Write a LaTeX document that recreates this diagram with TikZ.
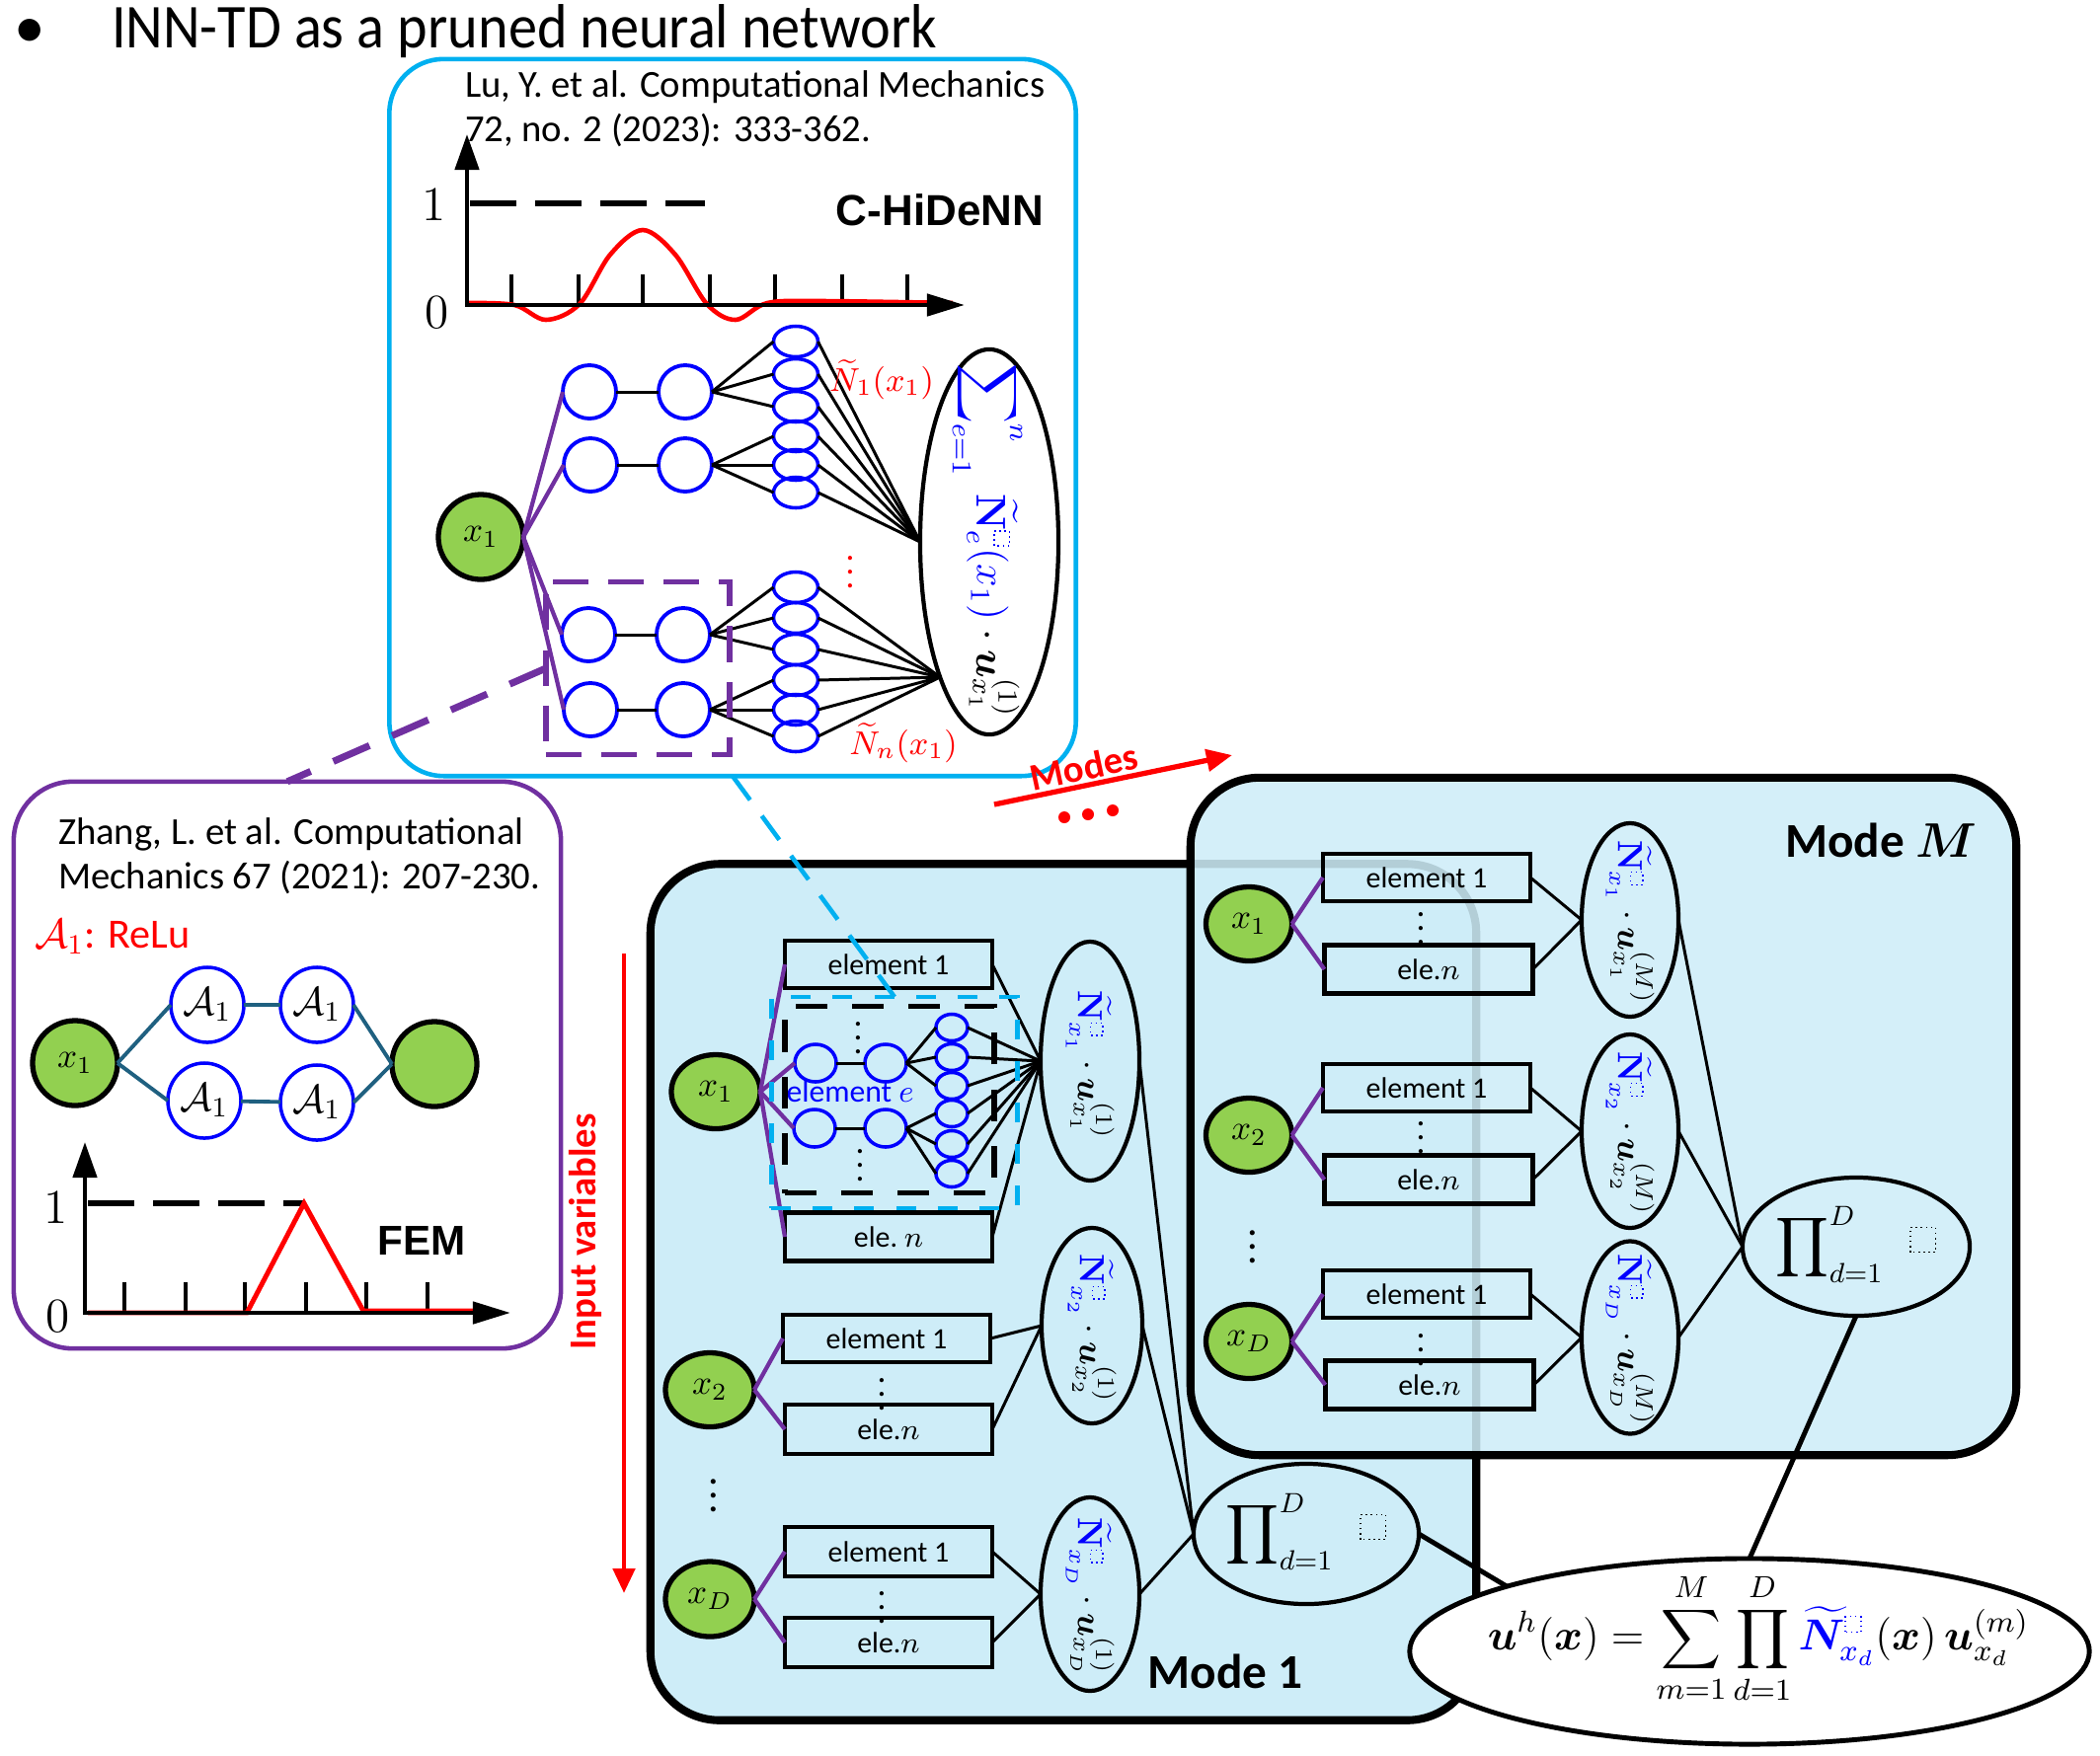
\RequirePackage{fix-cm}
\documentclass[tikz,border=0pt]{standalone}
\usepackage{amsmath,bm}
\usepackage[no-math]{fontspec}
\setmainfont{Carlito}
\newfontfamily\arialf{Liberation Sans}
\usepackage{graphicx}
\usetikzlibrary{shapes.geometric,arrows.meta}
\definecolor{cyanc}{RGB}{0,176,240}
\definecolor{purp}{RGB}{112,48,160}
\definecolor{greenc}{RGB}{146,208,80}
\definecolor{bluec}{RGB}{0,0,255}
\definecolor{tealc}{RGB}{31,96,128}
\definecolor{lbg}{RGB}{206,237,248}
\newcommand{\fsz}[1]{\fontsize{#1}{#1}\selectfont}
\newcommand{\phbox}[1][0.36em]{\tikz[baseline=0pt]\draw[densely dotted,line width=0.45pt] (0,0) rectangle (#1,#1);}
\newcommand{\Nt}{\widetilde{\mathbf{N}}}
\begin{document}
\begin{tikzpicture}[x=0.01cm,y=-0.01cm,
  every node/.style={inner sep=0pt, outer sep=0pt},
  gnode/.style={ellipse, draw=black, fill=greenc, line width=1.5pt, font=\fsz{10}},
  bcirc/.style={ellipse, draw=bluec, line width=1.1pt},
  sell/.style={ellipse, draw=bluec, line width=1pt},
  ebox/.style={rectangle, draw=black, line width=1.2pt, minimum width=2.10cm, minimum height=0.48cm, font=\fsz{8.5}},
  bell/.style={ellipse, draw=black, line width=1.2pt},
  conn/.style={line width=0.85pt, draw=black},
  pconn/.style={line width=1.2pt, draw=purp},
  tconn/.style={line width=1.1pt, draw=tealc},
  axisln/.style={line width=1.3pt, draw=black},
  axarr/.style={axisln, {Triangle[length=0.36cm,width=0.24cm]}-{Triangle[length=0.38cm,width=0.22cm]}},
  dline/.style={line width=1.6pt, dash pattern=on 0.47cm off 0.19cm},
  modebox/.style={rectangle, draw=black, line width=2.3pt, fill=lbg, rounded corners=0.7cm},
  reftext/.style={anchor=west, font=\fsz{11}},
  etext/.style={rotate=-90, font=\fsz{10}},
  ptext/.style={font=\fsz{12}},
  vdt/.style={font=\fsz{10}}
]
\useasboundingbox (0,0) rectangle (2127,1778);

% ---------- title ----------
\node[anchor=base, font=\fsz{18}] (bullet) at (30,48) {\textbullet};
\node[anchor=base west, font=\fsz{18}] (title) at (113,48) {\scalebox{0.92}[1]{INN-TD as a pruned neural network}};

% ---------- C-HiDeNN panel ----------
\node[draw=cyanc, line width=1.3pt, rounded corners=0.55cm, minimum width=6.95cm, minimum height=7.26cm] (chid) at (742,423) {};
\node[reftext] (ref1a) at (471,88) {Lu, Y. et al. Computational Mechanics};
\node[reftext] (ref1b) at (471,132) {72, no. 2 (2023): 333-362.};
\node[font=\arialf\bfseries\fsz{12.5}] (chidlab) at (952,213) {C-HiDeNN};
\node[font=\fsz{14}] (one1) at (440,208) {$1$};
\node[font=\fsz{14}] (zero1) at (443,317) {$0$};
\draw[dline] (476,206) -- (714,206);
\foreach \xx in {518,586,651,719,785,853,919} \draw[axisln] (\xx,309) -- (\xx,278);
\draw[red, line width=1.3pt] plot[smooth, tension=0.55] coordinates {(474,307) (521,309) (553,324) (587,308) (618,258) (651,233) (684,258) (716,308) (745,324) (777,307) (830,305) (965,307)};
\draw[axarr] (473,136) -- (473,309) -- (977,309);

\node[gnode, minimum width=0.86cm, minimum height=0.86cm] (cx) at (487,544) {$x_1$};
\node[bcirc, minimum width=0.54cm, minimum height=0.54cm] (c11) at (597,397) {};
\node[bcirc, minimum width=0.54cm, minimum height=0.54cm] (c12) at (694,397) {};
\node[bcirc, minimum width=0.54cm, minimum height=0.54cm] (c21) at (598,471) {};
\node[bcirc, minimum width=0.54cm, minimum height=0.54cm] (c22) at (694,471) {};
\node[bcirc, minimum width=0.54cm, minimum height=0.54cm] (c31) at (596,643) {};
\node[bcirc, minimum width=0.54cm, minimum height=0.54cm] (c32) at (692,643) {};
\node[bcirc, minimum width=0.54cm, minimum height=0.54cm] (c41) at (598,719) {};
\node[bcirc, minimum width=0.54cm, minimum height=0.54cm] (c42) at (692,719) {};
\foreach \i/\yy in {1/346,2/379,3/412,4/442,5/471,6/499}
  \node[sell, minimum width=0.45cm, minimum height=0.31cm] (sA\i) at (806,\yy) {};
\foreach \i/\yy in {1/595,2/626,3/658,4/689,5/719,6/746}
  \node[sell, minimum width=0.45cm, minimum height=0.31cm] (sB\i) at (806,\yy) {};
\node[bell, minimum width=1.40cm, minimum height=3.90cm] (cbig) at (1002,549) {};
\node[rotate=-90, font=\fsz{12}] (cbigt) at (1000,548) {$\textcolor{bluec}{\displaystyle\sum\nolimits_{e=1}^{n}\ \Nt_e^{\phbox}(x_1)}\cdot\bm{u}_{x_1}^{(1)}$};

\foreach \n in {c11,c21,c31,c41} \draw[pconn] (cx.east) -- (\n.west);
\draw[conn] (c11) -- (c12); \draw[conn] (c21) -- (c22);
\draw[conn] (c31) -- (c32); \draw[conn] (c41) -- (c42);
\foreach \i in {1,2,3} {\draw[conn] (c12.east) -- (sA\i.west); \draw[conn] (c32.east) -- (sB\i.west);}
\foreach \i in {4,5,6} {\draw[conn] (c22.east) -- (sA\i.west); \draw[conn] (c42.east) -- (sB\i.west);}
\foreach \i in {1,...,6} {\draw[conn] (sA\i.east) -- (cbig.west); \draw[conn] (sB\i.east) -- (cbig.250);}

\node[text=red, font=\fsz{9.5}] (lab1) at (893,385) {$\widetilde{N}_1(x_1)$};
\node[text=red, font=\fsz{9.5}] (labn) at (915,753) {$\widetilde{N}_n(x_1)$};
\node[text=red, font=\fsz{10}] (rdots) at (861,569) {$\vdots$};

\node[draw=purp, line width=1.6pt, dash pattern=on 0.36cm off 0.2cm, minimum width=1.86cm, minimum height=1.75cm] (prune) at (646,677) {};

% ---------- FEM panel ----------
\node[draw=purp, line width=1.3pt, rounded corners=0.6cm, minimum width=5.54cm, minimum height=5.74cm] (fem) at (291,1079) {};
\node[reftext] (ref2a) at (59,845) {Zhang, L. et al. Computational};
\node[reftext] (ref2b) at (59,889) {Mechanics 67 (2021): 207-230.};
\node[anchor=west, text=red, font=\fsz{12}] (relu) at (35,949) {$\mathcal{A}_1$: ReLu};
\node[gnode, minimum width=0.86cm, minimum height=0.86cm] (fx) at (76,1077) {$x_1$};
\node[gnode, minimum width=0.86cm, minimum height=0.86cm] (fo) at (440,1078) {};
\node[bcirc, line width=1pt, minimum width=0.74cm, minimum height=0.76cm, font=\fsz{11.5}] (fa1) at (210,1018) {$\mathcal{A}_1$};
\node[bcirc, line width=1pt, minimum width=0.74cm, minimum height=0.76cm, font=\fsz{11.5}] (fa2) at (321,1018) {$\mathcal{A}_1$};
\node[bcirc, line width=1pt, minimum width=0.74cm, minimum height=0.76cm, font=\fsz{11.5}] (fa3) at (207,1115) {$\mathcal{A}_1$};
\node[bcirc, line width=1pt, minimum width=0.74cm, minimum height=0.76cm, font=\fsz{11.5}] (fa4) at (321,1117) {$\mathcal{A}_1$};
\draw[tconn] (fx.east) -- (fa1.west);
\draw[tconn] (fx.east) -- (fa3.west);
\draw[tconn] (fa1) -- (fa2);
\draw[tconn] (fa3) -- (fa4);
\draw[tconn] (fa2.east) -- (fo.west);
\draw[tconn] (fa4.east) -- (fo.west);
\node[font=\fsz{14}] (one2) at (57,1224) {$1$};
\node[font=\fsz{14}] (zero2) at (59,1334) {$0$};
\node[font=\arialf\bfseries\fsz{12}] (femlab) at (427,1257) {FEM};
\draw[dline] (89,1219) -- (307,1219);
\foreach \xx in {126,188,248,310,371,433} \draw[axisln] (\xx,1330) -- (\xx,1299);
\draw[red, line width=1.4pt] (89,1330) -- (250,1330) -- (308,1219) -- (368,1328) -- (481,1328);
\draw[axarr] (86,1157) -- (86,1330) -- (517,1330);

\draw[purp, line width=2pt, dash pattern=on 0.4cm off 0.25cm] (prune.west) -- (fem.north);

% ---------- Mode 1 ----------
\node[modebox, minimum width=8.36cm, minimum height=8.67cm] (mode1) at (1077,1309) {};
\node[font=\bfseries\fsz{14}] (mode1lab) at (1241,1693) {Mode 1};

\node[gnode, minimum width=0.90cm, minimum height=0.75cm] (m1x1) at (725,1106) {$x_1$};
\node[ebox] (m1e11) at (900,977) {element 1};
\node[ebox, minimum height=0.49cm] (m1e1n) at (900,1253) {ele.\ $n$};
\node[bcirc, line width=1pt, minimum width=0.42cm, minimum height=0.38cm] (m1b1) at (826,1077) {};
\node[bcirc, line width=1pt, minimum width=0.42cm, minimum height=0.38cm] (m1b2) at (897,1077) {};
\node[bcirc, line width=1pt, minimum width=0.42cm, minimum height=0.38cm] (m1b3) at (825,1143) {};
\node[bcirc, line width=1pt, minimum width=0.42cm, minimum height=0.38cm] (m1b4) at (897,1143) {};
\foreach \i/\yy in {1/1041,2/1071,3/1100,4/1128,5/1159,6/1189}
  \node[sell, minimum width=0.32cm, minimum height=0.27cm] (m1s\i) at (964,\yy) {};
\node[vdt] (m1d1) at (869,1041) {$\vdots$};
\node[vdt] (m1d2) at (871,1170) {$\vdots$};
\node[text=bluec, font=\fsz{9}] (m1el) at (861,1106) {element $e$};
\node[bell, minimum width=1.0cm, minimum height=2.42cm] (m1E1) at (1104,1075) {};
\node[etext] (m1E1t) at (1104,1079) {$\textcolor{bluec}{\Nt^{\phbox}_{x_1}}\cdot\bm{u}^{(1)}_{x_1}$};

\draw[pconn] (m1x1.east) -- (m1e11.west);
\draw[pconn] (m1x1.east) -- (m1b1.west);
\draw[pconn] (m1x1.east) -- (m1b3.west);
\draw[pconn] (m1x1.east) -- (m1e1n.west);
\draw[conn] (m1b1) -- (m1b2);
\draw[conn] (m1b3) -- (m1b4);
\foreach \i in {1,2,3} \draw[conn] (m1b2.east) -- (m1s\i.west);
\foreach \i in {4,5,6} \draw[conn] (m1b4.east) -- (m1s\i.west);
\foreach \i in {1,...,6} \draw[conn] (m1s\i.east) -- (m1E1.west);
\draw[conn] (m1e11.east) -- (m1E1.west);
\draw[conn] (m1e1n.east) -- (m1E1.west);
\node[draw=black, line width=1.5pt, dash pattern=on 0.32cm off 0.25cm, minimum width=2.12cm, minimum height=1.89cm] (bdash) at (901,1114) {};
\node[draw=cyanc, line width=1.3pt, dash pattern=on 0.2cm off 0.22cm, minimum width=2.49cm, minimum height=2.14cm] (cdash) at (906,1117) {};

\node[gnode, minimum width=0.90cm, minimum height=0.75cm] (m1x2) at (719,1408) {$x_2$};
\node[ebox] (m1e21) at (898,1356) {element 1};
\node[vdt] (m1v2) at (893,1402) {$\vdots$};
\node[ebox, minimum height=0.50cm] (m1e2n) at (900,1448) {ele.$n$};
\node[bell, minimum width=1.02cm, minimum height=1.98cm] (m1E2) at (1106,1343) {};
\node[etext] (m1E2t) at (1106,1346) {$\textcolor{bluec}{\Nt^{\phbox}_{x_2}}\cdot\bm{u}^{(1)}_{x_2}$};
\node[vdt, font=\fsz{12}] (m1vd) at (723,1505) {$\vdots$};
\node[gnode, minimum width=0.90cm, minimum height=0.76cm] (m1xD) at (719,1620) {$x_D$};
\node[ebox, minimum height=0.50cm] (m1eD1) at (900,1572) {element 1};
\node[vdt] (m1vD) at (893,1618) {$\vdots$};
\node[ebox, minimum height=0.50cm] (m1eDn) at (900,1664) {ele.$n$};
\node[bell, minimum width=1.0cm, minimum height=1.96cm] (m1ED) at (1104,1615) {};
\node[etext] (m1EDt) at (1104,1618) {$\textcolor{bluec}{\Nt^{\phbox}_{x_D}}\cdot\bm{u}^{(1)}_{x_D}$};
\node[bell, minimum width=2.28cm, minimum height=1.42cm] (m1P) at (1323,1554) {};
\node[ptext] (m1Pt) at (1323,1552) {$\displaystyle\prod\nolimits_{d=1}^{D}\ \ \raisebox{0.3ex}{\phbox[0.6em]}$};

\draw[pconn] (m1x2.east) -- (m1e21.west);
\draw[pconn] (m1x2.east) -- (m1e2n.west);
\draw[pconn] (m1xD.east) -- (m1eD1.west);
\draw[pconn] (m1xD.east) -- (m1eDn.west);
\draw[conn] (m1e21.east) -- (m1E2.west);
\draw[conn] (m1e2n.east) -- (m1E2.west);
\draw[conn] (m1eD1.east) -- (m1ED.west);
\draw[conn] (m1eDn.east) -- (m1ED.west);
\draw[conn] (m1E1.east) -- (m1P.west);
\draw[conn] (m1E2.east) -- (m1P.west);
\draw[conn] (m1ED.east) -- (m1P.west);

\draw[cyanc, line width=1.3pt, dash pattern=on 0.3cm off 0.2cm] (chid.south) -- (cdash.north);

% ---------- Mode M ----------
\node[modebox, fill opacity=0.87, minimum width=8.36cm, minimum height=6.86cm] (modeM) at (1624,1131) {};
\node[font=\bfseries\fsz{14}] (modeMlab) at (1905,851) {Mode $\bm{M}$};

\node[gnode, minimum width=0.87cm, minimum height=0.75cm] (mMx1) at (1265,936) {$x_1$};
\node[ebox, line width=1.3pt] (mMe11) at (1445,889) {element 1};
\node[vdt] (mMv1) at (1439,930) {$\vdots$};
\node[ebox, line width=1.3pt, minimum width=2.11cm, minimum height=0.49cm] (mMe1n) at (1447,982) {ele.$n$};
\node[bell, minimum width=0.98cm, minimum height=1.96cm] (mME1) at (1651,932) {};
\node[etext] (mME1t) at (1651,934) {$\textcolor{bluec}{\Nt^{\phbox}_{x_1}}\cdot\bm{u}^{(M)}_{x_1}$};

\node[gnode, minimum width=0.87cm, minimum height=0.75cm] (mMx2) at (1265,1150) {$x_2$};
\node[ebox, line width=1.3pt] (mMe21) at (1445,1102) {element 1};
\node[vdt] (mMv2) at (1439,1142) {$\vdots$};
\node[ebox, line width=1.3pt, minimum width=2.11cm, minimum height=0.49cm] (mMe2n) at (1447,1195) {ele.$n$};
\node[bell, minimum width=0.98cm, minimum height=1.96cm] (mME2) at (1651,1146) {};
\node[etext] (mME2t) at (1651,1148) {$\textcolor{bluec}{\Nt^{\phbox}_{x_2}}\cdot\bm{u}^{(M)}_{x_2}$};

\node[vdt, font=\fsz{12}] (mMvd) at (1269,1253) {$\vdots$};

\node[gnode, minimum width=0.87cm, minimum height=0.75cm] (mMxD) at (1265,1359) {$x_D$};
\node[ebox, line width=1.3pt] (mMeD1) at (1445,1311) {element 1};
\node[vdt] (mMvD) at (1439,1357) {$\vdots$};
\node[ebox, line width=1.3pt, minimum width=2.11cm, minimum height=0.49cm] (mMeDn) at (1448,1403) {ele.$n$};
\node[bell, minimum width=0.98cm, minimum height=1.95cm] (mMED) at (1651,1355) {};
\node[etext] (mMEDt) at (1651,1357) {$\textcolor{bluec}{\Nt^{\phbox}_{x_D}}\cdot\bm{u}^{(M)}_{x_D}$};

\node[bell, minimum width=2.30cm, minimum height=1.40cm] (mMP) at (1880,1263) {};
\node[ptext] (mMPt) at (1880,1261) {$\displaystyle\prod\nolimits_{d=1}^{D}\ \ \raisebox{0.3ex}{\phbox[0.6em]}$};

\foreach \r in {1,2,D} {
  \draw[pconn] (mMx\r.east) -- (mMe\r1.west);
  \draw[pconn] (mMx\r.east) -- (mMe\r n.west);
  \draw[conn] (mMe\r1.east) -- (mME\r.west);
  \draw[conn] (mMe\r n.east) -- (mME\r.west);
  \draw[conn] (mME\r.east) -- (mMP.west);
}

% ---------- formula ----------
\node[ellipse, draw=black, fill=white, line width=1.4pt, minimum width=6.88cm, minimum height=1.88cm] (fml) at (1772,1673) {};
\node[font=\fsz{12.5}] (fmlt) at (1781,1660) {$\displaystyle \bm{u}^{h}(\bm{x}) = \sum_{m=1}^{M}\prod_{d=1}^{D}\textcolor{bluec}{\widetilde{\bm{N}}^{\phbox}_{x_d}}(\bm{x})\,\bm{u}^{(m)}_{x_d}$};
\draw[line width=1.4pt] (m1P.east) -- (fml.165);
\draw[line width=1.4pt] (mMP.south) -- (fml.north);

% ---------- annotations ----------
\coordinate (ma) at (1007,815);
\coordinate (mb) at (1248,765);
\draw[red, line width=1.5pt, -{Triangle[length=0.26cm,width=0.22cm]}] (ma) -- (mb);
\node[rotate=12, text=red, font=\bfseries\fsz{11}] (modes) at (1098,777) {Modes};
\node[circle, fill=red, minimum size=0.12cm] (dot1) at (1078,828) {};
\node[circle, fill=red, minimum size=0.12cm] (dot2) at (1102,825) {};
\node[circle, fill=red, minimum size=0.12cm] (dot3) at (1127,821) {};

\coordinate (ia) at (632,966);
\coordinate (ib) at (632,1614);
\draw[red, line width=1.4pt, -{Triangle[length=0.25cm,width=0.22cm]}] (ia) -- (ib);
\node[rotate=90, text=red, font=\bfseries\fsz{11}] (invar) at (593,1248) {Input variables};
\end{tikzpicture}
\end{document}
